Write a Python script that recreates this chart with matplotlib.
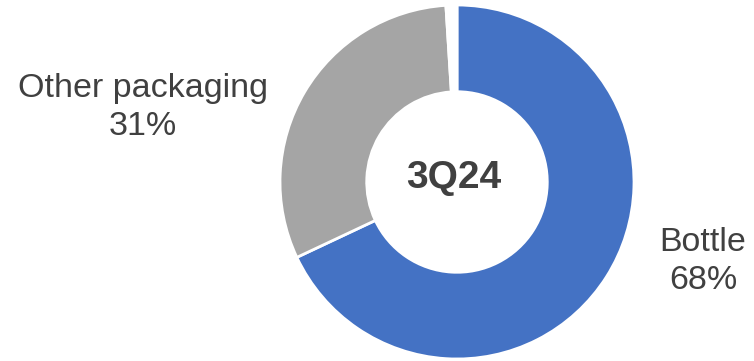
import matplotlib.pyplot as plt

plt.rcParams['font.family'] = ['Liberation Sans', 'DejaVu Sans']

labels = ['Bottle', 'Other packaging', '']
values = [68, 31, 1]
colors = ['#4472C4', '#A5A5A5', 'white']
center_label = '3Q24'

W, H = 754, 361
fig = plt.figure(figsize=(W / 100, H / 100), dpi=100)

# pie centre and radius in pixels
cx, cy, r = 457, 182, 177
ax = fig.add_axes([(cx - r) / W, (H - cy - r) / H, 2 * r / W, 2 * r / H])

ax.pie(values, colors=colors, startangle=90, counterclock=False,
       wedgeprops=dict(width=0.49, edgecolor='white', linewidth=2))
ax.set_xlim(-1, 1)
ax.set_ylim(-1, 1)
ax.set_aspect('equal')
ax.axis('off')

txt = '#404040'
ax.text(-0.02, 0.02, center_label, ha='center', va='center',
        fontsize=28, fontweight='bold', color=txt)
ax.text(1.39, -0.45, f'{labels[0]}\n{values[0]}%', ha='center', va='center',
        fontsize=24.5, color=txt, linespacing=1.28, clip_on=False)
ax.text(-1.775, 0.42, f'{labels[1]}\n{values[1]}%', ha='center', va='center',
        fontsize=24.5, color=txt, linespacing=1.28, clip_on=False)

fig.savefig('out.png', dpi=100)
